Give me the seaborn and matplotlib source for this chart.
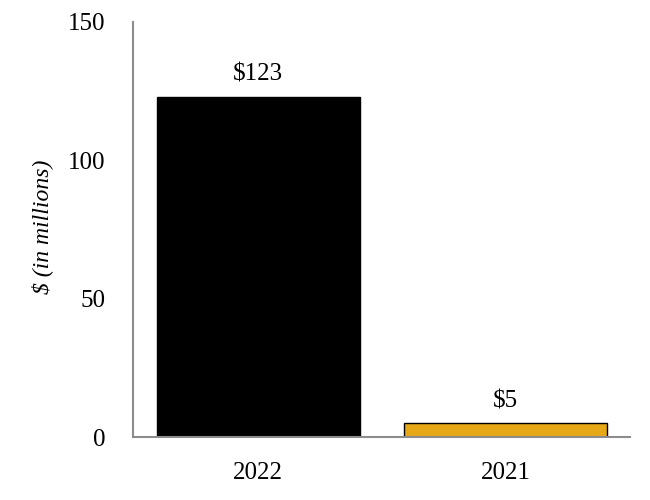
import matplotlib
matplotlib.use('Agg')
import matplotlib.pyplot as plt
import seaborn as sns
import pandas as pd

sns.set_style('white')
plt.rcParams['font.family'] = ['Liberation Serif', 'DejaVu Serif']
plt.rcParams['text.color'] = 'black'
plt.rcParams['axes.labelcolor'] = 'black'
plt.rcParams['xtick.color'] = 'black'
plt.rcParams['ytick.color'] = 'black'

years = ['2022', '2021']
values = [123, 5]
labels = ['$123', '$5']
colors = ['#000000', '#E6A817']

df = pd.DataFrame({'year': years, 'value': values})

fig = plt.figure(figsize=(6.5, 5), dpi=100)
ax = fig.add_axes([0.205, 0.126, 0.764, 0.830])

sns.barplot(data=df, x='year', y='value', hue='year', palette=colors,
            legend=False, width=0.82, saturation=1, edgecolor='black',
            linewidth=1, ax=ax)

for i, (v, lab) in enumerate(zip(values, labels)):
    ax.text(i, v + 4, lab, ha='center', va='bottom', fontsize=18)

ax.set_ylim(0, 150)
ax.set_xlim(-0.505, 1.503)
ax.set_yticks([0, 50, 100, 150])
ax.set_xlabel('')
ax.set_ylabel('$ (in millions)', fontsize=17, style='italic')
ax.yaxis.set_label_coords(-0.162, 0.506)
ax.tick_params(axis='both', labelsize=18, length=0)
ax.tick_params(axis='y', pad=20)
ax.tick_params(axis='x', pad=18)

for side in ['top', 'right']:
    ax.spines[side].set_visible(False)
for side in ['left', 'bottom']:
    ax.spines[side].set_color('#8c8c8c')
    ax.spines[side].set_linewidth(1.5)

plt.savefig('out.png', dpi=100)
plt.close()
